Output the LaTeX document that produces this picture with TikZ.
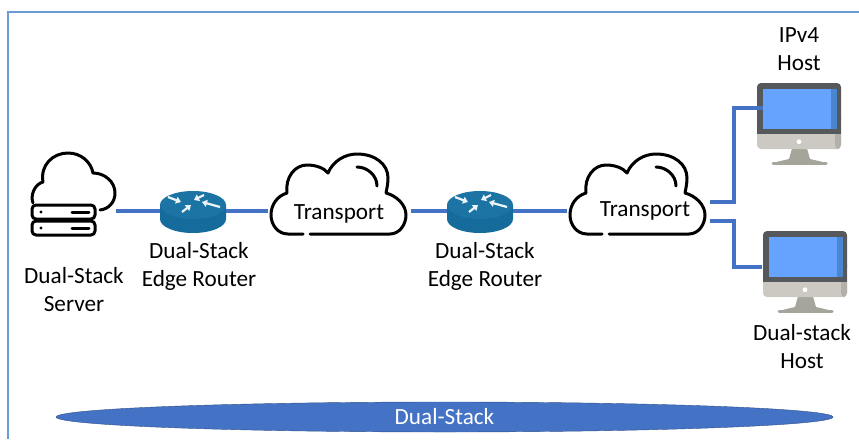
\documentclass[tikz,border=0pt]{standalone}
\usepackage{fontspec}
\setmainfont{Carlito}
\usetikzlibrary{arrows.meta,positioning,shapes.geometric}
\definecolor{wireblue}{HTML}{4472C4}
\definecolor{framecol}{HTML}{6A9BD4}
\definecolor{routertop}{HTML}{1C74A4}
\definecolor{routerside}{HTML}{146B9C}
\definecolor{chincol}{HTML}{CCC9C2}
\definecolor{chinshade}{HTML}{B2B0A9}
\definecolor{standcol}{HTML}{A5A59C}
\definecolor{bezelcol}{HTML}{55595C}
\definecolor{screencol}{HTML}{66A3FF}
\definecolor{screenshade}{HTML}{4A86D0}
\tikzset{
  iconbox/.style={inner sep=0pt,outer sep=0pt,minimum height=4pt},
  wire/.style={draw=wireblue,line width=4.5pt},
  caption/.style={align=center,font=\fontsize{23.2}{28}\selectfont},
  outline/.style={draw=black,line width=3pt,line cap=round,line join=round},
  cloudicon/.pic={
    \draw[outline] (-36,23) -- (-51,23) .. controls (-61,23) and (-68,14) .. (-68,4)
      .. controls (-68,-6) and (-62,-15) .. (-52,-18)
      .. controls (-54,-34) and (-44,-46) .. (-32,-46)
      .. controls (-23,-46) and (-15,-43) .. (-11,-38)
      .. controls (-6,-50) and (6,-57) .. (18,-57)
      .. controls (36,-57) and (49,-47) .. (49,-33)
      .. controls (49,-28) and (48,-23) .. (47,-18)
      .. controls (58,-15) and (67,-6) .. (67,4)
      .. controls (67,14) and (60,23) .. (51,23) -- (-29,23);
    \draw[outline] (18,-44) .. controls (28,-44) and (38,-36) .. (38,-25);
  },
  servericon/.pic={
    \draw[outline] (-41,-8) .. controls (-44,-16) and (-39,-27) .. (-31,-29)
      .. controls (-34,-46) and (-21,-58) .. (-6,-58)
      .. controls (7,-58) and (17,-49) .. (19,-38)
      .. controls (31,-38) and (41,-29) .. (41,-18)
      .. controls (41,-9) and (35,-2) .. (26,-1);
    \draw[outline,rounded corners=4pt] (-42,-6) rectangle (21,8);
    \draw[outline,rounded corners=4pt] (-42,10) rectangle (21,24);
    \foreach \y in {1,17} {
      \fill (-33,\y) circle (1.6);
      \draw[outline] (-2,\y) -- (15,\y);
    }
  },
  routericon/.pic={
    \fill[routerside] (-33,-6) -- (-33,8) .. controls (-33,16) and (-18,22) .. (0,22)
      .. controls (18,22) and (33,16) .. (33,8) -- (33,-6) -- cycle;
    \fill[routertop] (0,-6) ellipse (33 and 14);
    \foreach \a/\b/\c/\d in {-25/-14/-12/-9,11/-16/1/-11,27/-4/9/-9,-11/1/-2/-6} {
      \draw[white!92!routertop,line width=2.2pt,-{Triangle[length=5pt,width=7pt]}] (\a,\b) -- (\c,\d);
    }
  },
  monitoricon/.pic={
    \fill[standcol] (36,62) -- (49,62) -- (53,76) -- (70,80) -- (15,80) -- (32,76) -- cycle;
    \draw[standcol,line width=3pt,line cap=round] (16,80) -- (69,80);
    \fill[chincol,rounded corners=4pt] (0,30) rectangle (84,66);
    \fill[chinshade,rounded corners=4pt] (78,30) rectangle (84,66);
    \fill[bezelcol,rounded corners=4pt] (0,0) rectangle (84,40);
    \fill[bezelcol] (0,30) rectangle (84,51);
    \fill[screencol] (5.5,5.5) rectangle (80,46);
    \fill[screenshade] (74,5.5) rectangle (80,46);
    \fill[white] (42,58.7) circle (2.4);
  }
}
\begin{document}
\begin{tikzpicture}[x=1pt,y=-1pt,on grid]
  \useasboundingbox (0,0) rectangle (859,439);
  \draw[framecol,line width=2pt] (8,439) -- (8,12) -- (859,12);

  \node[iconbox,minimum width=84pt] (server) at (74,211) {};
  \node[iconbox,minimum width=66pt] (router1) [right=119pt of server] {};
  \node[iconbox,minimum width=143pt] (cloud1) [right=146pt of router1] {};
  \node[iconbox,minimum width=66pt] (router2) [right=141pt of cloud1] {};
  \node[iconbox,minimum width=143pt] (cloud2) [right=158pt of router2] {};
  \node[iconbox,minimum width=78pt] (host1) at (802,108) {};
  \node[iconbox,minimum width=86pt] (host2) at (805,267) {};
  \coordinate (tap1) at (710,202);
  \coordinate (tap2) at (710,221);

  \pic at (server) {servericon};
  \pic at (router1) {routericon};
  \pic at (cloud1) {cloudicon};
  \pic at (router2) {routericon};
  \pic at (cloud2) {cloudicon};
  \pic at (757,83) {monitoricon};
  \pic at (763,231) {monitoricon};

  \draw[wire] (server) -- (router1);
  \draw[wire] (router1) -- (cloud1);
  \draw[wire] (cloud1) -- (router2);
  \draw[wire] (router2) -- (cloud2);
  \draw[wire] (tap1) -- ++(24,0) |- (host1.west);
  \draw[wire] (tap2) -- ++(24,0) |- (host2.west);

  \node[caption] (trans1) [below=3pt of cloud1] {Transport};
  \node[caption] (trans2) [right=7pt of cloud2] {Transport};
  \node[caption] (serverlabel) [below=79pt of server] {Dual-Stack\\Server};
  \node[caption] (edge1) [below right=55pt and 6pt of router1] {Dual-Stack\\Edge Router};
  \node[caption] (edge2) [below right=55pt and 5pt of router2] {Dual-Stack\\Edge Router};
  \node[caption] (ipv4) [above left=59pt and 3pt of host1] {IPv4\\Host};
  \node[caption] (dualhost) [below left=80pt and 3pt of host2] {Dual-stack\\Host};

  \node[ellipse,draw=wireblue!70!black,fill=wireblue,text=white,font=\fontsize{23.2}{28}\selectfont,
    minimum width=777pt,minimum height=30pt,inner sep=0pt] (dualstack) at (444.5,417) {Dual-Stack};
\end{tikzpicture}
\end{document}
